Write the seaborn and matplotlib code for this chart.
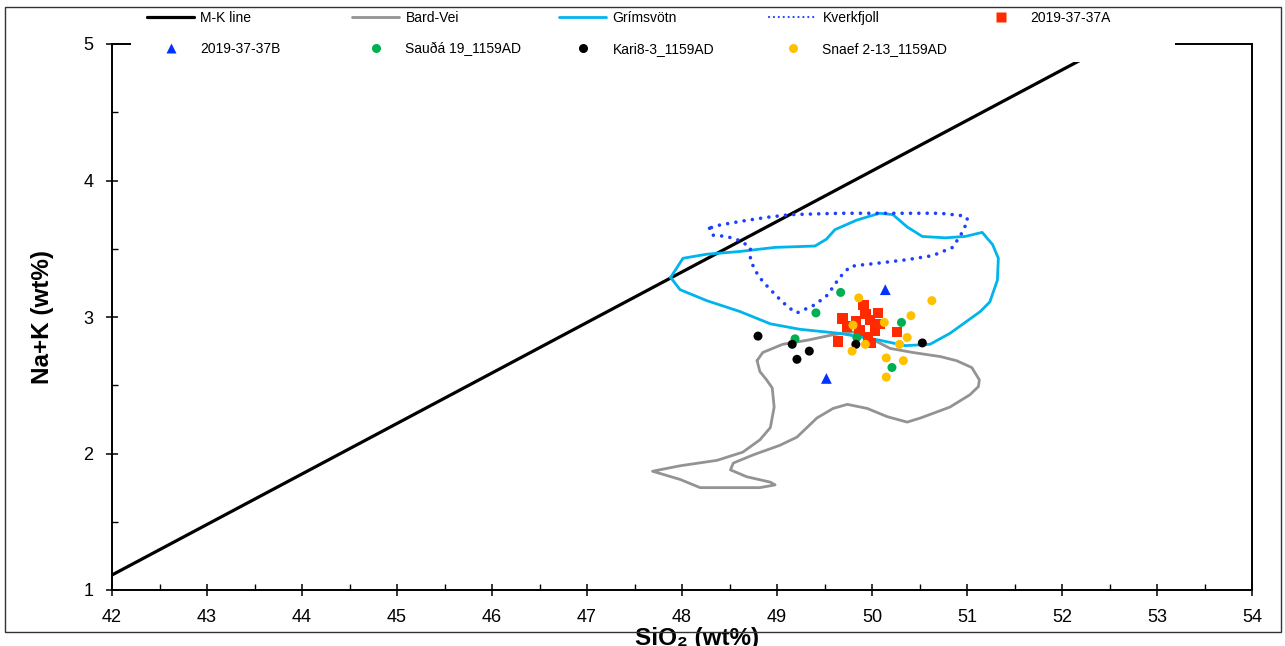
import matplotlib
matplotlib.use("Agg")
import matplotlib.pyplot as plt
from matplotlib.lines import Line2D
from matplotlib.patches import Rectangle
from matplotlib.ticker import MultipleLocator
import seaborn as sns

# M-K dividing line
mk_x = [42.0, 54.0]
mk_y = [1.11, 5.55]

# field outlines (closed)
bard_x = [48.79, 48.85, 49.06, 49.32, 49.59, 49.80, 49.87, 50.05, 50.19, 50.43, 50.72, 50.89,
          51.05, 51.13, 51.12, 51.03, 50.82, 50.51, 50.37, 50.16, 49.95, 49.74, 49.59, 49.42,
          49.21, 49.03, 48.75, 48.54, 48.51, 48.68, 48.93, 48.98, 48.82, 48.40, 48.19, 47.98,
          47.69, 47.98, 48.37, 48.64, 48.82, 48.93, 48.97, 48.95, 48.89, 48.82, 48.79]
bard_y = [2.68, 2.74, 2.80, 2.83, 2.87, 2.89, 2.87, 2.82, 2.77, 2.74, 2.71, 2.68,
          2.63, 2.54, 2.49, 2.43, 2.34, 2.26, 2.23, 2.27, 2.33, 2.36, 2.33, 2.26,
          2.12, 2.06, 1.99, 1.93, 1.88, 1.83, 1.79, 1.77, 1.75, 1.75, 1.75, 1.81,
          1.87, 1.91, 1.95, 2.01, 2.10, 2.19, 2.34, 2.48, 2.54, 2.60, 2.68]

grims_x = [47.88, 48.01, 48.26, 48.61, 48.98, 49.40, 49.52, 49.61, 49.84, 50.08, 50.22, 50.37,
           50.53, 50.77, 50.98, 51.16, 51.27, 51.33, 51.32, 51.24, 51.14, 50.98, 50.82, 50.61,
           50.35, 50.08, 49.66, 49.24, 48.93, 48.61, 48.26, 47.98, 47.88]
grims_y = [3.29, 3.43, 3.46, 3.48, 3.51, 3.52, 3.57, 3.64, 3.71, 3.76, 3.75, 3.66,
           3.59, 3.58, 3.59, 3.62, 3.53, 3.43, 3.27, 3.11, 3.04, 2.96, 2.88, 2.80,
           2.79, 2.83, 2.88, 2.91, 2.95, 3.04, 3.12, 3.20, 3.29]

kverk_x = [48.29, 48.32, 48.47, 48.61, 48.72, 48.72, 48.77, 48.85, 49.00, 49.12, 49.21, 49.40,
           49.53, 49.66, 49.77, 49.87, 50.01, 50.37, 50.64, 50.85, 50.95, 51.01, 50.98, 50.72,
           50.37, 49.66, 49.14, 48.89, 48.61, 48.37, 48.29]
kverk_y = [3.65, 3.60, 3.59, 3.56, 3.51, 3.42, 3.34, 3.26, 3.15, 3.07, 3.03, 3.09,
           3.16, 3.29, 3.37, 3.38, 3.39, 3.42, 3.45, 3.51, 3.62, 3.71, 3.74, 3.76,
           3.76, 3.76, 3.75, 3.73, 3.70, 3.67, 3.65]

# samples
s37a_x = [49.91, 50.06, 49.69, 49.74, 49.87, 49.98, 50.03, 49.96, 50.08, 49.99, 50.26, 49.64, 49.83, 49.93]
s37a_y = [3.09, 3.03, 2.99, 2.93, 2.90, 2.98, 2.90, 2.85, 2.95, 2.81, 2.89, 2.82, 2.97, 3.02]

s37b_x = [50.14, 49.52]
s37b_y = [3.20, 2.55]

sauda_x = [49.67, 49.41, 50.31, 49.19, 49.84, 50.21]
sauda_y = [3.18, 3.03, 2.96, 2.84, 2.85, 2.63]

kari_x = [48.80, 49.16, 49.34, 49.21, 49.83, 50.53]
kari_y = [2.86, 2.80, 2.75, 2.69, 2.80, 2.81]

snaef_x = [49.86, 50.63, 50.41, 50.13, 49.80, 50.37, 50.29, 49.93, 49.79, 50.15, 50.33, 50.15]
snaef_y = [3.14, 3.12, 3.01, 2.96, 2.94, 2.85, 2.80, 2.80, 2.75, 2.70, 2.68, 2.56]

legend_cols = [["M-K line", "2019-37-37B"],
               ["Bard-Vei", "Sauðá 19_1159AD"],
               ["Grímsvötn", "Kari8-3_1159AD"],
               ["Kverkfjoll", "Snaef 2-13_1159AD"],
               ["2019-37-37A"]]

c_red = "#ff2a00"
c_blue = "#0033ff"
c_green = "#00b050"
c_yellow = "#ffc000"
c_cyan = "#00b4ec"
c_gray = "#939393"
c_kv = "#1f3fff"

sns.set_theme(style="white")
plt.rcParams["font.family"] = ["Liberation Sans", "DejaVu Sans"]
plt.rcParams["text.color"] = "black"
plt.rcParams["axes.labelcolor"] = "black"
plt.rcParams["xtick.color"] = "black"
plt.rcParams["ytick.color"] = "black"

fig = plt.figure(figsize=(12.85, 6.46), dpi=100)
ax = fig.add_axes([112 / 1285, 1 - 590 / 646, 1140 / 1285, 546 / 646])

sns.lineplot(x=mk_x, y=mk_y, sort=False, estimator=None, color="black", lw=2.3, ax=ax)
sns.lineplot(x=bard_x, y=bard_y, sort=False, estimator=None, color=c_gray, lw=2.0, ax=ax)
sns.lineplot(x=grims_x, y=grims_y, sort=False, estimator=None, color=c_cyan, lw=2.0, ax=ax)
ax.plot(kverk_x, kverk_y, color=c_kv, lw=2.6, ls=(0, (0.01, 2.3)), dash_capstyle="round")

sns.scatterplot(x=s37a_x, y=s37a_y, marker="s", s=55, color=c_red, edgecolor="none", ax=ax, zorder=3)
sns.scatterplot(x=s37b_x, y=s37b_y, marker="^", s=60, color=c_blue, edgecolor="none", ax=ax, zorder=3)
sns.scatterplot(x=sauda_x, y=sauda_y, marker="o", s=42, color=c_green, edgecolor="none", ax=ax, zorder=3)
sns.scatterplot(x=kari_x, y=kari_y, marker="o", s=42, color="black", edgecolor="none", ax=ax, zorder=3)
sns.scatterplot(x=snaef_x, y=snaef_y, marker="o", s=42, color=c_yellow, edgecolor="none", ax=ax, zorder=3)

ax.set_xlim(42, 54)
ax.set_ylim(1, 5)
ax.xaxis.set_major_locator(MultipleLocator(1))
ax.xaxis.set_minor_locator(MultipleLocator(0.5))
ax.yaxis.set_major_locator(MultipleLocator(1))
ax.yaxis.set_minor_locator(MultipleLocator(0.5))
ax.tick_params(which="major", direction="inout", length=9, width=1.1, labelsize=13,
               colors="black", bottom=True, left=True, pad=9)
ax.tick_params(which="minor", direction="in", length=4.5, width=1.0, colors="black",
               bottom=True, left=True)
for sp in ax.spines.values():
    sp.set_color("black")
    sp.set_linewidth(1.4)

ax.set_xlabel("SiO₂ (wt%)", fontsize=17.5, fontweight="bold")
ax.set_ylabel("Na+K (wt%)", fontsize=17.5, fontweight="bold")
ax.xaxis.set_label_coords(0.513, -0.068)
ax.yaxis.set_label_coords(-0.051, 0.5)

# white legend block over the top of the plot
fig.add_artist(Rectangle((131 / 1285, 1 - 62 / 646), (1175 - 131) / 1285, 54 / 646,
                         transform=fig.transFigure, facecolor="white", edgecolor="none", zorder=2))

handles = {
    "M-K line": Line2D([], [], color="black", lw=2.3),
    "Bard-Vei": Line2D([], [], color=c_gray, lw=2.0),
    "Grímsvötn": Line2D([], [], color=c_cyan, lw=2.0),
    "Kverkfjoll": Line2D([], [], color=c_kv, lw=1.6, ls=(0, (0.01, 2.2)), dash_capstyle="round"),
    "2019-37-37A": Line2D([], [], ls="", marker="s", ms=7, color=c_red, mec="none"),
    "2019-37-37B": Line2D([], [], ls="", marker="^", ms=7.5, color=c_blue, mec="none"),
    "Sauðá 19_1159AD": Line2D([], [], ls="", marker="o", ms=6.5, color=c_green, mec="none"),
    "Kari8-3_1159AD": Line2D([], [], ls="", marker="o", ms=6.5, color="black", mec="none"),
    "Snaef 2-13_1159AD": Line2D([], [], ls="", marker="o", ms=6.5, color=c_yellow, mec="none"),
}
col_x = [147, 352, 559, 769, 977]
for cx, labels in zip(col_x, legend_cols):
    leg = fig.legend([handles[l] for l in labels], labels, loc="upper left",
                     bbox_to_anchor=(cx / 1285, 1 - 11 / 646), frameon=False, fontsize=10,
                     handlelength=3.4, handletextpad=0.45, borderpad=0, borderaxespad=0,
                     labelspacing=1.2)
    leg.set_zorder(5)

# outer chart frame
fig.add_artist(Rectangle((5 / 1285, 1 - 632 / 646), 1276 / 1285, 625 / 646, transform=fig.transFigure,
                         facecolor="none", edgecolor="#333333", lw=1.0, zorder=4))

fig.savefig("out.png", dpi=100)
